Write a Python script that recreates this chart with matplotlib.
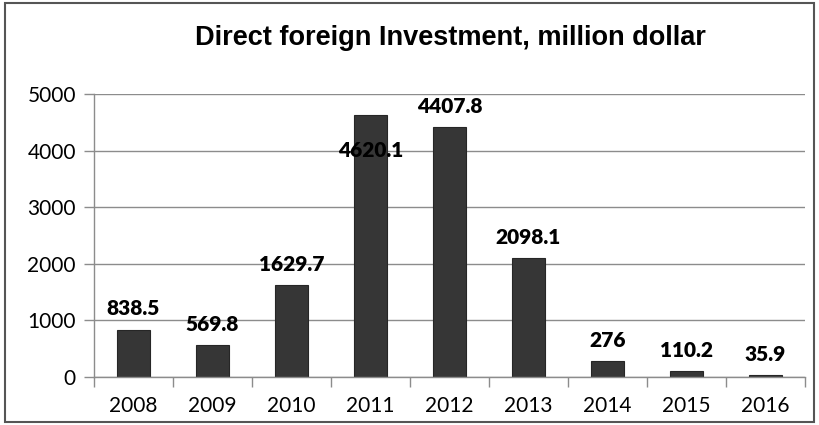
import matplotlib
matplotlib.use("Agg")
import matplotlib.pyplot as plt
from matplotlib.patches import Rectangle
import numpy as np

years = ["2008", "2009", "2010", "2011", "2012", "2013", "2014", "2015", "2016"]
values = [838.5, 569.8, 1629.7, 4620.1, 4407.8, 2098.1, 276, 110.2, 35.9]
labels = ["838.5", "569.8", "1629.7", "4620.1", "4407.8", "2098.1", "276", "110.2", "35.9"]
yticks = [0, 1000, 2000, 3000, 4000, 5000]

fig = plt.figure(figsize=(8.19, 4.25), dpi=100)
ax = fig.add_axes([94 / 819, 0.113, (805 - 94) / 819, 0.779 - 0.113])

x = np.arange(len(years))
ax.bar(x, values, width=0.41, color="#363636", edgecolor="#262626", linewidth=0.8, zorder=3)

ax.set_xlim(-0.5, len(years) - 0.5)
ax.set_ylim(0, 5000)
ax.set_yticks(yticks)
ax.set_yticklabels([str(t) for t in yticks], fontfamily="Lato", fontsize=15, color="#000000")
ax.set_xticks(x)
ax.set_xticklabels(years, fontfamily="Lato", fontsize=15, color="#000000")
ax.tick_params(axis="x", which="major", length=0, pad=13.5)
ax.set_xticks(np.arange(-0.5, len(years)), minor=True)
ax.tick_params(axis="x", which="minor", length=7, color="#8c8c8c", width=1)
ax.tick_params(axis="y", length=7, color="#8c8c8c", width=1, pad=6)

ax.grid(axis="y", color="#8c8c8c", linewidth=1, zorder=0)
for s in ["top", "right"]:
    ax.spines[s].set_visible(False)
for s in ["left", "bottom"]:
    ax.spines[s].set_color("#8c8c8c")
    ax.spines[s].set_linewidth(1)
    ax.spines[s].set_zorder(4)

for i, (v, lab) in enumerate(zip(values, labels)):
    if lab == "4620.1":
        ax.text(i, 4000, lab, ha="center", va="center", fontfamily="Lato",
                fontweight="heavy", fontsize=15, color="#000000", zorder=5)
    else:
        ax.annotate(lab, (i, v), xytext=(0, 8), textcoords="offset points",
                    ha="center", va="bottom", fontfamily="Lato", fontweight="heavy",
                    fontsize=15, color="#000000", zorder=5)

fig.text(0.55, 0.91, "Direct foreign Investment, million dollar", ha="center", va="center",
         fontfamily="Liberation Sans", fontweight="bold", fontsize=19.5, color="#000000")

fig.patches.append(Rectangle((0.006, 0.006), 0.988, 0.986, transform=fig.transFigure,
                             fill=False, edgecolor="#555555", linewidth=1.5))

fig.savefig("out.png", dpi=100)
